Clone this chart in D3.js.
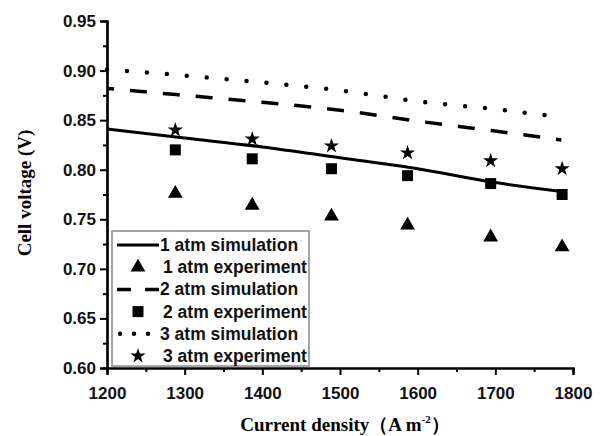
<!DOCTYPE html>
<html>
<head>
<meta charset="utf-8">
<script src="https://cdn.jsdelivr.net/npm/d3@7"></script>
<style>
  body { margin: 0; background: #fff; }
  svg { display: block; }
</style>
</head>
<body>
<svg id="chart" width="602" height="436"></svg>
<script>
// simulation curves
var simX = [1200, 1300, 1400, 1500, 1600, 1700, 1785];
var sim1 = [0.841, 0.832, 0.823, 0.812, 0.801, 0.787, 0.778];
var sim2 = [0.882, 0.875, 0.868, 0.860, 0.849, 0.839, 0.830];
var sim3 = [0.901, 0.895, 0.888, 0.880, 0.869, 0.861, 0.853];
// experiment points
var expX = [1288, 1387, 1489, 1587, 1694, 1786];
var exp1 = [0.776, 0.764, 0.753, 0.744, 0.732, 0.722];
var exp2 = [0.820, 0.811, 0.801, 0.794, 0.786, 0.775];
var exp3 = [0.840, 0.831, 0.824, 0.817, 0.809, 0.801];

var legendLabels = ["1 atm simulation", "1 atm experiment", "2 atm simulation",
                    "2 atm experiment", "3 atm simulation", "3 atm experiment"];

var margin = {top: 21, right: 29, bottom: 68, left: 107};
var W = 602, H = 436;
var svg = d3.select("#chart");
var g = svg.append("g").attr("transform", "translate(" + margin.left + "," + margin.top + ")");
var w = W - margin.left - margin.right, h = H - margin.top - margin.bottom;

var x = d3.scaleLinear().domain([1200, 1800]).range([0, w]);
var y = d3.scaleLinear().domain([0.60, 0.95]).range([h, 0]);

// line styles
var styles = [
  {dash: null, width: 3, cap: "butt", offset: 0},
  {dash: "17,16", width: 3.5, cap: "butt", offset: 10},
  {dash: "0,20", width: 4.5, cap: "round", offset: 0}
];
var sims = [sim1, sim2, sim3];
var line = d3.line().x(function (d) { return x(d[0]); }).y(function (d) { return y(d[1]); })
  .curve(d3.curveMonotoneX);

sims.forEach(function (s, i) {
  g.append("path")
    .datum(simX.map(function (v, j) { return [v, s[j]]; }))
    .attr("d", line)
    .attr("fill", "none")
    .attr("stroke", "#000")
    .attr("stroke-width", styles[i].width)
    .attr("stroke-linecap", styles[i].cap)
    .attr("stroke-dasharray", styles[i].dash)
    .attr("stroke-dashoffset", styles[i].offset);
});

var symbols = [
  d3.symbol().type(d3.symbolTriangle).size(95),
  d3.symbol().type(d3.symbolSquare).size(121),
  d3.symbol().type(d3.symbolStar).size(72)
];
[exp1, exp2, exp3].forEach(function (s, i) {
  g.selectAll(".pt" + i)
    .data(expX.map(function (v, j) { return [v, s[j]]; }))
    .enter().append("path")
    .attr("class", "pt" + i)
    .attr("d", symbols[i])
    .attr("transform", function (d) { return "translate(" + x(d[0]) + "," + y(d[1]) + ")"; })
    .attr("fill", "#000");
});

// axes
var fontTick = "'Liberation Sans', Arial, sans-serif";
var xAxis = g.append("g").attr("transform", "translate(0," + h + ")")
  .call(d3.axisBottom(x).tickValues(d3.range(1200, 1801, 100)).tickSize(7).tickPadding(12).tickFormat(d3.format("d")));
var xMinor = g.append("g").attr("transform", "translate(0," + h + ")")
  .call(d3.axisBottom(x).tickValues(d3.range(1250, 1800, 100)).tickSize(4).tickFormat(""));
var yAxis = g.append("g")
  .call(d3.axisLeft(y).tickValues(d3.range(0.60, 0.951, 0.05)).tickSize(7).tickPadding(4).tickFormat(d3.format(".2f")));
var yMinor = g.append("g")
  .call(d3.axisLeft(y).tickValues(d3.range(0.625, 0.95, 0.05)).tickSize(4).tickFormat(""));

[xAxis, xMinor, yAxis, yMinor].forEach(function (a) {
  a.select(".domain").attr("stroke", "#000").attr("stroke-width", 2.2);
  a.selectAll(".tick line").attr("stroke", "#000").attr("stroke-width", 2);
  a.selectAll(".tick text").attr("font-family", fontTick).attr("font-weight", "bold")
    .attr("font-size", 17).attr("fill", "#111");
});

// axis titles
svg.append("text")
  .attr("transform", "translate(31,193) rotate(-90)")
  .attr("text-anchor", "middle")
  .attr("font-family", "'Liberation Serif', 'Times New Roman', serif")
  .attr("font-weight", "bold").attr("font-size", 19)
  .text("Cell voltage (V)");

var xt = svg.append("text")
  .attr("x", margin.left + w / 2 + 5).attr("y", 431)
  .attr("text-anchor", "middle")
  .attr("font-family", "'Liberation Serif', 'Times New Roman', serif")
  .attr("font-weight", "bold").attr("font-size", 19);
xt.append("tspan").text("Current density（A m");
xt.append("tspan").attr("dy", -8).attr("font-size", 11).text("-2");
xt.append("tspan").attr("dy", 8).text("）");

// legend
var lg = g.append("g").attr("transform", "translate(5," + (231 - margin.top) + ")");
lg.append("rect").attr("width", 197).attr("height", 135)
  .attr("fill", "#fff").attr("stroke", "#888").attr("stroke-width", 1.5);
legendLabels.forEach(function (lab, i) {
  var cy = 14 + i * 22.2;
  if (i % 2 === 0) {
    var st = styles[i / 2];
    lg.append("line").attr("x1", 5).attr("x2", 47).attr("y1", cy).attr("y2", cy)
      .attr("stroke", "#000").attr("stroke-width", st.width)
      .attr("stroke-linecap", st.cap)
      .attr("stroke-dasharray", i === 2 ? "14,14" : (i === 4 ? "0,14" : null))
      .attr("stroke-dashoffset", i === 4 ? -3 : 0);
  } else {
    lg.append("path").attr("d", symbols[(i - 1) / 2])
      .attr("transform", "translate(26," + cy + ")").attr("fill", "#000");
  }
  lg.append("text").attr("x", i % 2 === 0 ? 48 : 51).attr("y", cy + 6)
    .attr("font-family", fontTick).attr("font-weight", "bold").attr("font-size", 17.5)
    .attr("fill", "#111").text(lab);
});
</script>
</body>
</html>
